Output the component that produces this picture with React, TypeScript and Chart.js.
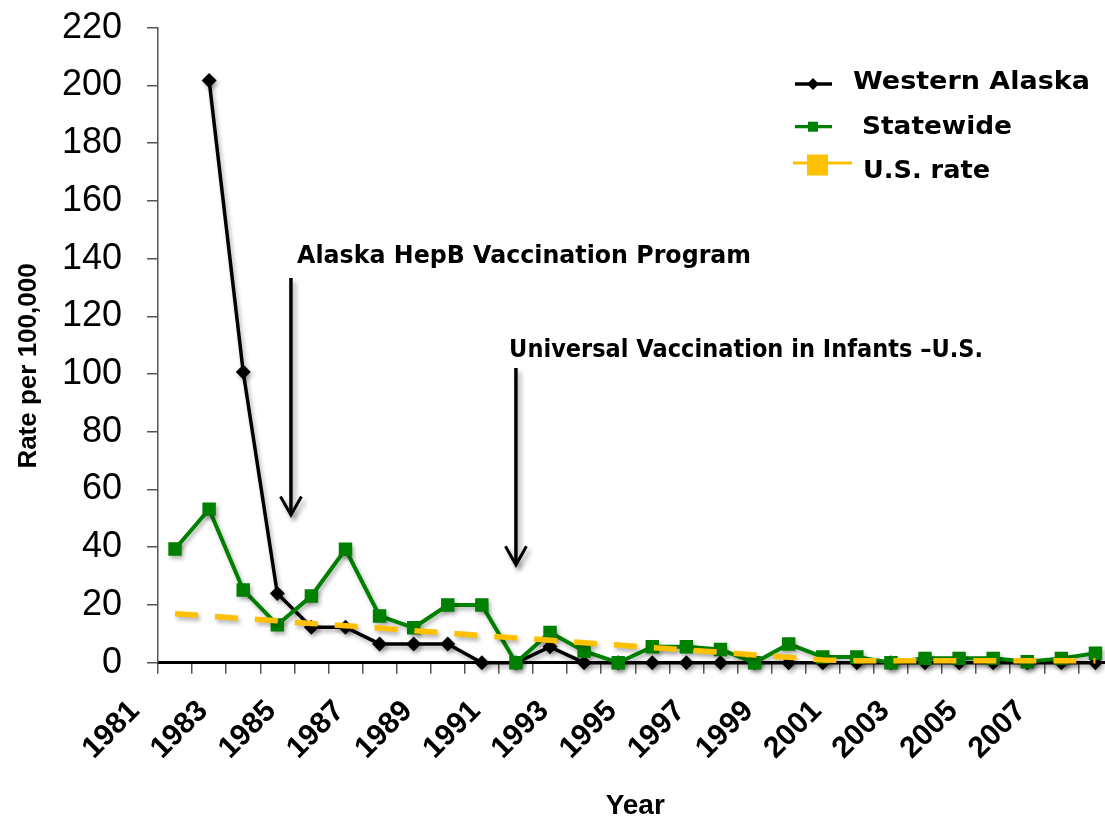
import { useEffect, useRef } from "react";
import { Chart, registerables } from "chart.js";

Chart.register(...registerables);

const years = [
  "1981", "1982", "1983", "1984", "1985", "1986", "1987", "1988", "1989", "1990",
  "1991", "1992", "1993", "1994", "1995", "1996", "1997", "1998", "1999", "2000",
  "2001", "2002", "2003", "2004", "2005", "2006", "2007", "2008",
];

const westernAlaska = [
  null, 201.7, 100.7, 24, 12.3, 12.3, 6.5, 6.5, 6.5, 0,
  0, 5.5, 0, 0, 0, 0, 0, 0, 0, 0,
  0, 0, 0, 0, 0, 0, 0, 0,
];

const statewide = [
  39.4, 53.2, 25.2, 13.1, 23.1, 39.3, 16.2, 12.1, 20, 20,
  0, 10.5, 4, 0, 5.5, 5.5, 4.6, 0, 6.5, 2,
  2, 0, 1.5, 1.5, 1.5, 0.3, 1.5, 3.3,
];

const usRate = [
  17, 16.2, 15.3, 14.5, 13.6, 12.8, 12, 11.1, 10.3, 9.4,
  8.6, 7.8, 6.9, 6.1, 5.2, 4.4, 3.6, 2.7, 1.9, 0.9,
  0.7, 0.7, 0.7, 0.7, 0.7, 0.7, 0.7, 0.7,
];

const seriesNames = ["Western Alaska", "Statewide", "U.S. rate"];
const yTicksMin = 0;
const yTicksMax = 220;
const yTicksStep = 20;
const yTitle = "Rate per 100,000";
const xTitle = "Year";

// annotations in data units: [category index, value]
const annotations = [
  { text: "Alaska HepB Vaccination Program", textAt: [3.58, 138.5], arrowX: 3.4, arrowTop: 133.3, arrowTip: 51.2 },
  { text: "Universal Vaccination in Infants \u2013U.S.", textAt: [9.8, 105.9], arrowX: 10.0, arrowTop: 102.1, arrowTip: 33.9 },
];

const BLACK = "#000000";
const GREEN = "#008000";
const GOLD = "#FFC000";
const SANS = '"Liberation Sans", Arial, sans-serif';
const GOTHIC = '"DejaVu Sans", sans-serif';

function fittedText(ctx: CanvasRenderingContext2D, text: string, x: number, y: number, size: number, width: number) {
  ctx.font = `bold ${size}px ${GOTHIC}`;
  const w = ctx.measureText(text).width;
  ctx.save();
  ctx.translate(x, y);
  ctx.scale(width / w, 1);
  ctx.textAlign = "left";
  ctx.textBaseline = "alphabetic";
  ctx.fillText(text, 0, 0);
  ctx.restore();
}

const shadowPlugin = {
  id: "shadowPlugin",
  beforeDatasetDraw(chart: any) {
    const c = chart.ctx;
    c.save();
    c.shadowColor = "rgba(0,0,0,0.3)";
    c.shadowBlur = 4;
    c.shadowOffsetX = 2;
    c.shadowOffsetY = 3;
  },
  afterDatasetDraw(chart: any) {
    chart.ctx.restore();
  },
};

const overlayPlugin = {
  id: "overlayPlugin",
  afterDraw(chart: any) {
    const ctx: CanvasRenderingContext2D = chart.ctx;
    const xs = chart.scales.x;
    const ys = chart.scales.y;
    ctx.save();

    // y axis title
    ctx.save();
    ctx.translate(35.5, 366);
    ctx.rotate(-Math.PI / 2);
    ctx.font = `bold 26px ${SANS}`;
    ctx.fillStyle = "#000";
    ctx.textAlign = "center";
    ctx.textBaseline = "alphabetic";
    ctx.fillText(yTitle, 0, 0);
    ctx.restore();

    // annotations: arrows + text
    const widths = [454, 474];
    annotations.forEach((a, i) => {
      const ax = xs.getPixelForValue(a.arrowX);
      const top = ys.getPixelForValue(a.arrowTop);
      const tip = ys.getPixelForValue(a.arrowTip);
      ctx.save();
      ctx.shadowColor = "rgba(0,0,0,0.35)";
      ctx.shadowBlur = 5;
      ctx.shadowOffsetX = 3;
      ctx.shadowOffsetY = 4;
      ctx.strokeStyle = "#000";
      ctx.lineWidth = 3.5;
      ctx.lineCap = "butt";
      ctx.beginPath();
      ctx.moveTo(ax, top);
      ctx.lineTo(ax, tip - 1);
      ctx.stroke();
      ctx.lineWidth = 3;
      ctx.lineJoin = "miter";
      ctx.beginPath();
      ctx.moveTo(ax - 10.5, tip - 18.5);
      ctx.lineTo(ax, tip);
      ctx.lineTo(ax + 10.5, tip - 18.5);
      ctx.stroke();
      ctx.restore();

      ctx.fillStyle = "#000";
      const tx = xs.getPixelForValue(a.textAt[0]);
      const ty = ys.getPixelForValue(a.textAt[1]);
      fittedText(ctx, a.text, tx, ty, 25, widths[i]);
    });

    // legend
    const L = [
      { y: 84, color: BLACK, lw: 3.3, x0: 795, x1: 832, marker: "diamond", mx: 813, ms: 6, tx: 853, tb: 89, tw: 237 },
      { y: 126.7, color: GREEN, lw: 3.3, x0: 795, x1: 832, marker: "square", mx: 813, ms: 10, tx: 862, tb: 134, tw: 150 },
      { y: 163, color: GOLD, lw: 3, x0: 793, x1: 852, marker: "square", mx: 817.5, ms: 21, tx: 863, tb: 178, tw: 127 },
    ];
    L.forEach((l, i) => {
      ctx.strokeStyle = l.color;
      ctx.lineWidth = l.lw;
      ctx.beginPath();
      ctx.moveTo(l.x0, l.y);
      ctx.lineTo(l.x1, l.y);
      ctx.stroke();
      ctx.fillStyle = l.color;
      if (l.marker === "diamond") {
        ctx.beginPath();
        ctx.moveTo(l.mx - l.ms, l.y);
        ctx.lineTo(l.mx, l.y - l.ms);
        ctx.lineTo(l.mx + l.ms, l.y);
        ctx.lineTo(l.mx, l.y + l.ms);
        ctx.closePath();
        ctx.fill();
      } else {
        const cy = i === 2 ? l.y + 2 : l.y;
        ctx.fillRect(l.mx - l.ms / 2, cy - l.ms / 2, l.ms, l.ms);
      }
      ctx.fillStyle = "#000";
      fittedText(ctx, seriesNames[i], l.tx, l.tb, 25, l.tw);
    });

    ctx.restore();
  },
};

export default function App() {
  const ref = useRef<HTMLCanvasElement>(null);

  useEffect(() => {
    if (!ref.current) return;
    const chart = new Chart(ref.current, {
      type: "line",
      data: {
        labels: years,
        datasets: [
          {
            label: seriesNames[0],
            data: westernAlaska,
            borderColor: BLACK,
            backgroundColor: BLACK,
            borderWidth: 3.5,
            pointStyle: "rectRot",
            pointRadius: 7.5,
            pointBorderWidth: 0,
            spanGaps: false,
            order: 3,
            clip: 30,
          },
          {
            label: seriesNames[1],
            data: statewide,
            borderColor: GREEN,
            backgroundColor: GREEN,
            borderWidth: 4,
            pointStyle: "rect",
            pointRadius: 9.5,
            pointBorderWidth: 0,
            order: 2,
            clip: 30,
          },
          {
            label: seriesNames[2],
            data: usRate,
            borderColor: GOLD,
            backgroundColor: GOLD,
            borderWidth: 5.5,
            borderDash: [23, 17],
            borderCapStyle: "butt",
            pointRadius: 0,
            order: 1,
            clip: 30,
          },
        ],
      },
      options: {
        responsive: false,
        animation: false,
        events: [],
        layout: { padding: { top: 27.7, right: 6, bottom: 0, left: 0 } },
        plugins: {
          legend: { display: false },
          tooltip: { enabled: false },
        },
        scales: {
          x: {
            type: "category",
            offset: true,
            grid: {
              offset: true,
              drawOnChartArea: false,
              drawTicks: true,
              tickLength: 11,
              color: "#555555",
              lineWidth: 1.5,
            },
            border: { display: true, color: "#000000", width: 3 },
            ticks: {
              autoSkip: false,
              minRotation: 45,
              maxRotation: 45,
              labelOffset: -40,
              padding: 20,
              color: "#000000",
              font: { family: SANS, size: 30, weight: "bold" },
              callback: (_v: any, i: number) => (i % 2 === 0 ? years[i] : ""),
            },
            title: {
              display: true,
              text: xTitle,
              color: "#000000",
              font: { family: SANS, size: 28, weight: "bold", lineHeight: 1 },
              padding: { top: 0, bottom: 1 },
            },
            afterFit: (s: any) => {
              s.height = 821 - 662.7;
              s.paddingLeft = 0;
              s.paddingRight = 0;
            },
          },
          y: {
            min: yTicksMin,
            max: yTicksMax,
            grid: {
              drawOnChartArea: false,
              drawTicks: true,
              tickLength: 11,
              color: "#555555",
              lineWidth: 1.5,
            },
            border: { display: true, color: "#555555", width: 1.5 },
            ticks: {
              stepSize: yTicksStep,
              padding: 25,
              color: "#000000",
              font: { family: SANS, size: 36 },
            },
            afterFit: (s: any) => {
              s.width = 158;
              s.paddingTop = 0;
              s.paddingBottom = 0;
            },
          },
        },
      },
      plugins: [shadowPlugin, overlayPlugin],
    } as any);
    return () => chart.destroy();
  }, []);

  return (
    <div
      style={{
        position: "absolute",
        left: 0,
        top: 0,
        width: 1105,
        height: 821,
        overflow: "hidden",
        background: "#ffffff",
      }}
    >
      <canvas ref={ref} width={1122} height={821} style={{ display: "block", width: 1122, height: 821 }} />
    </div>
  );
}
